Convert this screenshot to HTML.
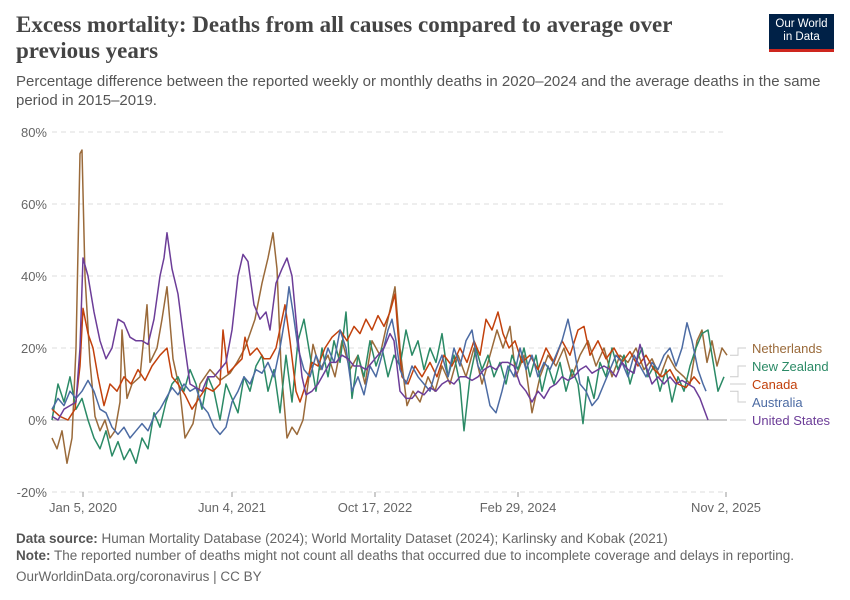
<!DOCTYPE html>
<html><head><meta charset="utf-8">
<style>
body{margin:0;background:#fff;width:850px;height:600px;overflow:hidden;font-family:"Liberation Sans",sans-serif;}
#title{position:absolute;left:16px;top:12px;width:700px;font-family:"Liberation Serif",serif;font-weight:bold;font-size:23px;line-height:26px;color:#444;}
#subtitle{position:absolute;left:16px;top:72px;width:820px;font-size:15px;line-height:19px;color:#555;}
#logo{position:absolute;left:769px;top:14px;width:65px;height:38px;background:#002147;color:#fff;font-size:11.5px;line-height:13px;text-align:center;padding-top:4px;box-sizing:border-box;border-bottom:3px solid #ce261e;}
.foot{position:absolute;left:16px;font-size:13.5px;color:#666;}
.foot b{color:#555;}
</style></head><body>
<div id="title">Excess mortality: Deaths from all causes compared to average over previous years</div>
<div id="subtitle">Percentage difference between the reported weekly or monthly deaths in 2020–2024 and the average deaths in the same period in 2015–2019.</div>
<div id="logo">Our World<br>in Data</div>
<svg id="chart" width="850" height="600" style="position:absolute;left:0;top:0"></svg>
<div class="foot" style="top:531px"><b>Data source:</b> Human Mortality Database (2024); World Mortality Dataset (2024); Karlinsky and Kobak (2021)</div>
<div class="foot" style="top:548px"><b>Note:</b> The reported number of deaths might not count all deaths that occurred due to incomplete coverage and delays in reporting.</div>
<div class="foot" style="top:569px">OurWorldinData.org/coronavirus | CC BY</div>
<script>
const yTicks=[-20,0,20,40,60,80];
const xTickT=[31,180,323,466,674];
const xTickLabels=["Jan 5, 2020","Jun 4, 2021","Oct 17, 2022","Feb 29, 2024","Nov 2, 2025"];
const seriesNames=["Netherlands","New Zealand","Canada","Australia","United States"];
const nlT=[0,5,10,15,20,24,28,30,33,38,43,48,53,58,63,68,70,75,80,88,95,98,105,110,115,121,128,133,141,148,158,168,178,185,193,203,210,216,221,225,229,235,240,245,251,256,261,268,276,283,290,298,306,313,320,328,336,343,348,355,361,368,376,383,390,398,406,414,422,430,438,445,451,458,464,472,480,488,496,504,512,520,528,536,544,552,560,568,576,584,592,600,608,616,624,632,638,645,650,655,660,665,670,675];
const nlV=[-5,-8,-3,-12,-5,20,74,75,40,16,1,-3,0,-5,-3,5,25,6,10,12,32,16,20,28,37,17,8,-5,-1,10,14,11,13,16,20,28,38,45,52,42,15,-5,-2,-4,0,10,21,14,18,12,22,14,18,10,22,18,28,37,20,4,8,5,12,8,15,10,18,12,20,10,18,25,20,26,12,18,2,12,18,15,20,12,18,22,15,20,12,18,16,20,14,17,12,18,14,12,10,22,25,16,22,15,20,18];
const caT=[0,8,16,23,28,31,36,41,46,52,58,65,72,79,86,93,100,108,115,120,126,133,140,147,154,161,168,171,176,183,190,193,198,205,212,218,224,230,233,238,244,248,254,260,266,273,280,288,295,302,308,314,320,326,332,338,343,346,350,356,363,370,378,385,392,400,408,415,422,428,434,440,446,451,457,463,470,478,486,494,502,510,518,526,532,538,546,554,562,570,578,586,594,602,610,618,626,634,642,648];
const caV=[3,1,0,3,15,31,24,20,12,4,10,8,12,10,14,11,15,18,20,12,10,7,3,6,9,8,10,25,13,15,17,23,18,20,17,17,20,28,32,22,8,5,10,16,15,20,23,25,22,26,24,28,25,29,26,30,35,24,12,10,15,12,16,12,18,15,20,16,22,18,28,25,30,24,20,22,16,18,14,20,16,22,18,25,26,18,22,17,20,16,19,15,18,14,12,14,10,9,12,10];
const auT=[0,6,12,18,24,30,36,42,48,54,60,66,72,78,84,90,96,102,108,114,120,126,132,138,144,150,156,162,168,174,180,186,192,198,204,210,216,222,228,234,237,241,246,252,258,264,270,276,282,288,294,300,306,312,318,324,330,336,340,344,348,354,360,366,372,378,384,390,396,402,408,414,420,426,432,438,444,450,456,462,468,474,480,486,492,498,504,510,516,522,528,534,540,546,552,558,564,570,576,582,588,594,600,606,612,618,624,630,635,640,646,651,654];
const auV=[3,6,4,8,6,8,11,8,3,2,-2,-4,-2,-5,-3,-1,-3,1,3,6,9,7,10,8,9,4,2,-2,-4,-2,5,8,12,10,14,13,16,12,20,30,37,30,20,14,12,18,14,20,16,25,20,8,12,7,15,12,18,25,28,22,14,10,15,12,10,8,14,18,12,20,15,22,25,15,12,4,2,8,15,12,20,14,18,12,16,14,18,22,28,20,10,8,4,6,10,14,18,16,12,18,15,12,16,14,18,20,15,20,27,22,14,10,8];
const nzT=[0,6,12,18,24,30,36,42,48,54,60,66,72,78,84,90,96,102,108,114,120,126,132,138,144,150,156,162,168,174,180,186,192,198,204,210,216,222,228,234,240,246,252,258,264,270,276,282,288,294,300,306,312,318,324,330,336,342,348,354,360,366,372,378,384,390,396,402,408,412,418,424,430,436,442,448,454,460,466,472,478,484,490,496,502,508,514,520,526,531,536,542,548,554,560,566,572,578,584,590,596,602,608,614,620,626,632,638,644,650,656,660,666,672];
const nzV=[0,10,5,12,3,6,0,-5,-8,-3,-10,-6,-11,-8,-12,-5,-8,2,-2,5,10,12,8,14,10,3,12,8,0,10,6,2,12,8,15,18,8,14,2,18,5,22,28,18,8,20,12,22,16,30,6,18,12,22,15,20,12,18,15,25,18,22,14,20,16,24,12,18,10,-3,12,20,14,18,12,16,10,18,14,20,12,18,8,15,10,16,8,14,10,-1,12,6,16,12,20,14,18,10,16,20,12,15,8,14,5,12,8,15,20,24,25,18,8,12];
const usT=[0,6,12,18,24,28,31,36,42,48,54,60,66,72,78,84,90,96,102,108,112,115,120,126,132,138,144,150,156,162,168,174,180,186,191,196,202,208,214,218,224,230,235,240,245,250,254,260,266,272,278,284,290,296,302,308,314,320,326,332,338,342,348,354,360,366,372,378,384,390,396,402,408,414,420,426,432,438,444,450,456,462,468,474,480,486,492,498,504,510,516,522,528,534,540,546,552,558,564,570,576,582,588,594,600,606,612,618,624,630,636,642,648,652,656];
const usV=[1,0,3,4,5,20,45,40,30,22,17,20,28,27,23,22,22,21,28,40,45,52,42,35,22,10,9,8,12,12,14,16,25,40,46,44,32,28,30,25,38,42,45,40,25,12,7,8,10,13,16,16,18,17,15,15,14,16,18,20,24,22,8,6,6,8,7,9,8,10,11,10,12,12,11,12,14,15,14,16,16,15,10,8,5,8,6,9,10,12,11,12,14,15,13,14,15,14,12,16,14,13,21,15,10,12,10,12,10,11,10,9,6,3,0];

const NS="http://www.w3.org/2000/svg";
const svg=document.getElementById('chart');
const X0=52,X1=727,Y0=420,PX=3.6;
const xs=t=>X0+t*(X1-X0)/675;
const ys=v=>Y0-v*PX;
function mk(tag,attrs,parent){const e=document.createElementNS(NS,tag);for(const k in attrs)e.setAttribute(k,attrs[k]);(parent||svg).appendChild(e);return e;}
yTicks.forEach(v=>{
  const l=mk('line',{x1:X0,x2:X1,y1:ys(v),y2:ys(v),stroke:v===0?'#bbb':'#ddd','stroke-width':v===0?1.5:1,'stroke-dasharray':v===0?'none':'5,4'});
  
  
  const t=mk('text',{x:47,y:ys(v)+5,'text-anchor':'end','font-size':13,fill:'#666'});
  t.textContent=v+'%';
  
  
});
xTickT.forEach((tt,i)=>{
  const l=mk('line',{x1:xs(tt),x2:xs(tt),y1:492,y2:497,stroke:'#999'});
  
  
  const t=mk('text',{x:xs(tt),y:512,'text-anchor':'middle','font-size':13,fill:'#666'});
  t.textContent=xTickLabels[i];
  
  
});
const series=[[nlT,nlV,'#9a6a3a'],[nzT,nzV,'#2b8a66'],[caT,caV,'#c2410c'],[auT,auV,'#4c6ba3'],[usT,usV,'#6c3d98']];
series.forEach((s,k)=>{
  const d=s[0].map((t,i)=>(i?'L':'M')+xs(t).toFixed(1)+','+ys(s[1][i]).toFixed(1)).join('');
  const p=mk('path',{d:d,fill:'none',stroke:s[2],'stroke-width':1.5,'stroke-linejoin':'round'});
  
  
});
const legY=[348,366,384,402,420];
seriesNames.forEach((n,k)=>{
  const s=series[k];
  const last=s[1][s[1].length-1];
  const g=mk('polyline',{points:`${xs(675)+3},${ys(last)} 738,${ys(last)} 738,${legY[k]} 746,${legY[k]}`,fill:'none',stroke:'#ccc','stroke-width':1});
  
  
  const t=mk('text',{x:752,y:legY[k]+5,'font-size':13,fill:s[2]});
  t.textContent=n;
  
  
});
</script>
</body></html>
